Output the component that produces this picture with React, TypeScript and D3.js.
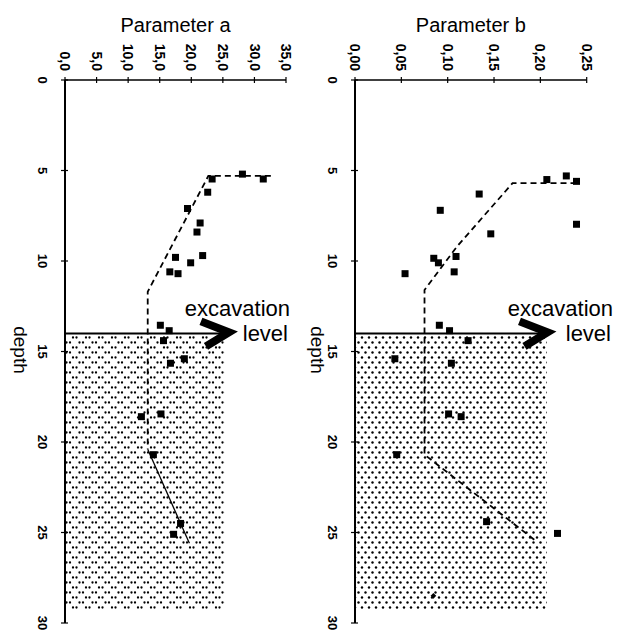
import React, { useEffect, useRef } from 'react'
import * as d3 from 'd3'

// depth axis and value axes
const depthTicks = [0, 5, 10, 15, 20, 25, 30]
const aTicks = [0, 5, 10, 15, 20, 25, 30, 35]
const bTicks = [0, 0.05, 0.1, 0.15, 0.2, 0.25]

// measured points, parameter a
const aDepth = [5.47, 5.2, 5.47, 6.2, 7.1, 7.9, 8.4, 9.7, 10.1, 9.8, 10.6, 10.7, 13.55, 13.85, 14.4, 15.65, 15.4, 18.6, 18.45, 20.7, 24.5, 25.1]
const aValue = [23.3, 28.1, 31.4, 22.6, 19.4, 21.4, 20.9, 21.8, 19.9, 17.5, 16.6, 17.9, 15.1, 16.5, 15.6, 16.7, 18.9, 12.1, 15.2, 14.0, 18.3, 17.2]

// measured points, parameter b
const bDepth = [5.5, 5.3, 5.6, 6.3, 7.97, 7.2, 8.5, 9.75, 9.85, 10.1, 10.6, 10.7, 13.55, 13.85, 14.4, 15.4, 15.65, 18.45, 18.6, 20.7, 24.4, 25.05]
const bValue = [0.207, 0.228, 0.239, 0.134, 0.239, 0.092, 0.1465, 0.109, 0.085, 0.09, 0.107, 0.054, 0.091, 0.102, 0.122, 0.043, 0.104, 0.101, 0.1145, 0.045, 0.142, 0.2185]
const bStrayDepth = [28.5]
const bStrayValue = [0.0846]

// design lines
const aTrendDepth = [5.3, 5.3, 11.7, 20.4]
const aTrendValue = [32.6, 22.7, 13.1, 13.1]
const aTailDepth = [20.4, 25.6]
const aTailValue = [13.1, 19.7]
const bTrendDepth = [5.7, 5.7, 9.2, 11.6, 20.7, 25.5]
const bTrendValue = [0.239, 0.17, 0.11, 0.075, 0.075, 0.196]

const excavationDepth = 14
const fillBottom = 29.3

const font = '"Liberation Sans", Arial, sans-serif'
const comma = d3.formatLocale({ decimal: ',', thousands: '.', grouping: [3], currency: ['', ''] })

function zip(xs, ys) {
  return xs.map((x, i) => [x, ys[i]])
}

function Panel(props) {
  const ref = useRef(null)

  useEffect(() => {
    const g = d3.select(ref.current)
    g.selectAll('*').remove()

    const x = d3.scaleLinear().domain(props.domain).range(props.range)
    const y = d3.scaleLinear().domain([0, 30]).range([80, 623])
    const x0 = x(0), y0 = y(0)

    // soil below excavation
    g.append('rect')
      .attr('x', x0 + 1)
      .attr('y', y(excavationDepth))
      .attr('width', x(props.shade) - x0 - 1)
      .attr('height', y(fillBottom) - y(excavationDepth))
      .attr('fill', `url(#${props.pattern})`)

    // top axis
    g.append('line')
      .attr('x1', x0).attr('x2', x(props.domain[1]))
      .attr('y1', y0).attr('y2', y0)
      .attr('stroke', '#000').attr('stroke-width', 1.4)
    g.selectAll('.xt').data(props.ticks).enter().append('line')
      .attr('x1', (d) => x(d)).attr('x2', (d) => x(d))
      .attr('y1', y0 - 3).attr('y2', y0 + 3)
      .attr('stroke', '#000').attr('stroke-width', 1.2)
    g.selectAll('.xl').data(props.ticks).enter().append('text')
      .attr('transform', (d) => `translate(${x(d)},${y0 - 9}) rotate(90)`)
      .attr('text-anchor', 'end')
      .attr('dy', '0.35em')
      .attr('font-family', font).attr('font-size', 14).attr('font-weight', 'bold')
      .text((d) => comma.format(props.fmt)(d))

    // depth axis
    g.append('line')
      .attr('x1', x0).attr('x2', x0)
      .attr('y1', y0).attr('y2', y(30))
      .attr('stroke', '#000').attr('stroke-width', 2)
    g.selectAll('.yt').data(depthTicks).enter().append('line')
      .attr('x1', x0 - 4).attr('x2', x0 + 3)
      .attr('y1', (d) => y(d)).attr('y2', (d) => y(d))
      .attr('stroke', '#000').attr('stroke-width', 1.2)
    g.selectAll('.yl').data(depthTicks).enter().append('text')
      .attr('transform', (d) => `translate(${x0 - 22},${y(d)}) rotate(90)`)
      .attr('text-anchor', 'middle')
      .attr('dy', '0.35em')
      .attr('font-family', font).attr('font-size', 13).attr('font-weight', 'bold')
      .text((d) => d)

    g.append('text')
      .attr('transform', `translate(${props.depthX},350) rotate(90)`)
      .attr('text-anchor', 'middle')
      .attr('dy', '0.35em')
      .attr('font-family', font).attr('font-size', 19)
      .text('depth')

    g.append('text')
      .attr('x', (x0 + x(props.domain[1])) / 2)
      .attr('y', 32)
      .attr('text-anchor', 'middle')
      .attr('font-family', font).attr('font-size', 20)
      .text(props.label)

    // design line
    const line = d3.line().x((d) => x(d[0])).y((d) => y(d[1]))
    g.append('path')
      .attr('d', line(zip(props.trendValue, props.trendDepth)))
      .attr('fill', 'none').attr('stroke', '#000')
      .attr('stroke-width', 1.8).attr('stroke-dasharray', '6,4')
    if (props.tailValue) {
      g.append('path')
        .attr('d', line(zip(props.tailValue, props.tailDepth)))
        .attr('fill', 'none').attr('stroke', '#000')
        .attr('stroke-width', 1.3)
    }

    // measurements
    g.selectAll('.pt').data(zip(props.values, props.depths)).enter().append('rect')
      .attr('x', (d) => x(d[0]) - 3.5).attr('y', (d) => y(d[1]) - 3.5)
      .attr('width', 7).attr('height', 7)
      .attr('fill', '#000')
    if (props.strayValue) {
      g.selectAll('.st').data(zip(props.strayValue, props.strayDepth)).enter().append('rect')
        .attr('x', (d) => x(d[0]) - 2).attr('y', (d) => y(d[1]) - 2)
        .attr('width', 4).attr('height', 4)
        .attr('transform', (d) => `rotate(45,${x(d[0])},${y(d[1])})`)
        .attr('fill', '#000')
    }

    // excavation level
    const tip = x(props.arrow)
    const ey = y(excavationDepth)
    g.append('line')
      .attr('x1', x0).attr('x2', tip - 4)
      .attr('y1', ey).attr('y2', ey)
      .attr('stroke', '#000').attr('stroke-width', 2)
    g.append('path')
      .attr('d', `M${tip - 32},${ey - 12} L${tip - 4},${ey - 1} L${tip - 27},${ey + 13}`)
      .attr('fill', 'none').attr('stroke', '#000')
      .attr('stroke-width', 8).attr('stroke-linejoin', 'miter')
    g.append('text')
      .attr('x', props.textEnd).attr('y', ey - 17)
      .attr('text-anchor', 'end')
      .attr('font-family', font).attr('font-size', 22)
      .text('excavation')
    g.append('text')
      .attr('x', props.textEnd - 2).attr('y', ey + 8)
      .attr('text-anchor', 'end')
      .attr('font-family', font).attr('font-size', 22)
      .text('level')
  }, [])

  return <g ref={ref}></g>
}

export default function App() {
  return (
    <svg width={620} height={630} style={{ position: 'absolute', left: 0, top: 0, background: '#fff' }}>
      <defs>
        <pattern id="pairs" patternUnits="userSpaceOnUse" width={13} height={10}>
          <circle cx={1.5} cy={2.5} r={1.15} fill="#000" />
          <circle cx={5} cy={2.5} r={1.15} fill="#000" />
          <circle cx={8} cy={7.5} r={1.15} fill="#000" />
          <circle cx={11.5} cy={7.5} r={1.15} fill="#000" />
        </pattern>
        <pattern id="dots" patternUnits="userSpaceOnUse" width={7} height={10}>
          <circle cx={1.5} cy={2.5} r={1.2} fill="#000" />
          <circle cx={5} cy={7.5} r={1.2} fill="#000" />
        </pattern>
      </defs>
      <rect width={620} height={630} fill="#fff" />
      <Panel
        label="Parameter a"
        domain={[0, 35]}
        range={[65, 286]}
        ticks={aTicks}
        fmt=".1f"
        values={aValue}
        depths={aDepth}
        trendValue={aTrendValue}
        trendDepth={aTrendDepth}
        tailValue={aTailValue}
        tailDepth={aTailDepth}
        shade={25.3}
        arrow={26.6}
        pattern="pairs"
        depthX={21}
        textEnd={290}
      />
      <Panel
        label="Parameter b"
        domain={[0, 0.25]}
        range={[355, 586.7]}
        ticks={bTicks}
        fmt=".2f"
        values={bValue}
        depths={bDepth}
        strayValue={bStrayValue}
        strayDepth={bStrayDepth}
        trendValue={bTrendValue}
        trendDepth={bTrendDepth}
        shade={0.207}
        arrow={0.212}
        pattern="dots"
        depthX={318}
        textEnd={613}
      />
    </svg>
  )
}
